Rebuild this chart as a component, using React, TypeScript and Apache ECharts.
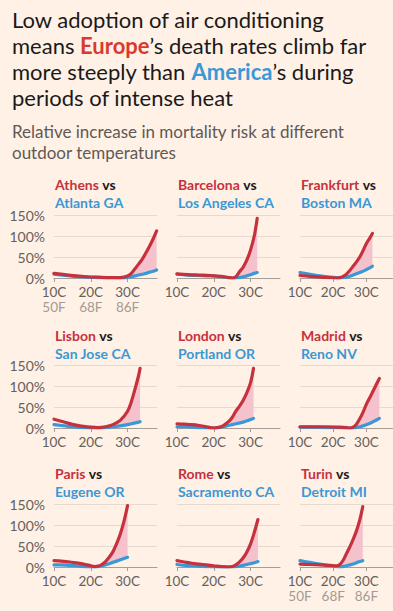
import React, { useEffect, useRef } from 'react';
import * as echarts from 'echarts';

const europeCities = ['Athens', 'Barcelona', 'Frankfurt', 'Lisbon', 'London', 'Madrid', 'Paris', 'Rome', 'Turin'];
const usCities = ['Atlanta GA', 'Los Angeles CA', 'Boston MA', 'San Jose CA', 'Portland OR', 'Reno NV', 'Eugene OR', 'Sacramento CA', 'Detroit MI'];

const xTicks = [10, 20, 30];
const cLabels = ['10C', '20C', '30C'];
const fLabels = ['50F', '68F', '86F'];
const yTicks = [0, 50, 100, 150];

// temperatures (°C) and relative increase in mortality risk (%)
const athensT = [10, 13, 16, 19, 22, 25, 27, 28, 29, 30, 31, 32, 33, 34, 35, 36, 37, 37.9];
const athensRed = [11, 8, 5, 3, 2, 1, 1, 1, 2, 5, 11, 22, 33, 45, 60, 76, 94, 112];
const atlantaBlue = [9, 6, 4, 2, 1, 0, 0, 0, 0, 1, 3, 5, 7, 9, 11, 14, 16, 19];

const barcelonaT = [10, 13, 16, 19, 22, 24, 25, 26, 27, 28, 29, 30, 31, 31.8];
const barcelonaRed = [10, 8, 7, 6, 4, 1, 0, 3, 15, 26, 43, 67, 100, 142];
const losAngelesBlue = [9, 7, 6, 5, 3, 1, 0, 0, 1, 3, 5, 8, 11, 13];

const frankfurtT = [10, 13, 16, 19, 21, 22, 23, 24, 26, 28, 30, 31, 31.8];
const frankfurtRed = [6, 4, 2, 1, 0, 1, 4, 9, 28, 50, 82, 95, 106];
const bostonBlue = [13, 9, 5, 2, 1, 0, 1, 2, 7, 13, 20, 24, 28];

const lisbonT = [10, 12, 14, 16, 18, 20, 22, 24, 26, 28, 30, 31, 32, 33, 33.4];
const lisbonRed = [21, 16, 11, 7, 4, 2, 1, 3, 8, 18, 40, 62, 92, 125, 142];
const sanJoseBlue = [8, 6, 4, 2, 1, 0, 0, 1, 3, 5, 8, 10, 12, 14, 15];

const londonT = [10, 12, 14, 16, 18, 19, 20, 21, 22, 23, 24, 25, 26, 27, 28, 29, 30, 30.8];
const londonRed = [10, 9, 8, 6, 3, 1, 0, 1, 3, 8, 15, 25, 40, 52, 66, 84, 108, 142];
const portlandBlue = [3, 3, 2, 1, 0, 0, 0, 1, 2, 4, 6, 8, 10, 12, 14, 17, 20, 23];

const madridT = [10, 14, 18, 22, 24, 25, 26, 27, 28, 29, 30, 31, 32, 33, 33.9];
const madridRed = [3, 3, 3, 2, 1, 0, 2, 9, 22, 38, 57, 72, 88, 104, 118];
const renoBlue = [2, 2, 1, 1, 0, 0, 0, 1, 3, 5, 8, 11, 15, 19, 23];

const parisT = [10, 12, 14, 16, 18, 20, 21, 22, 23, 24, 25, 26, 27, 28, 29, 30];
const parisRed = [15, 14, 12, 10, 7, 3, 1, 2, 6, 13, 23, 36, 55, 78, 108, 146];
const eugeneBlue = [5, 5, 4, 3, 1, 0, 0, 1, 3, 5, 8, 11, 14, 17, 20, 23];

const romeT = [10, 12, 14, 16, 18, 20, 22, 24, 25, 26, 27, 28, 29, 30, 31, 32];
const romeRed = [15, 12, 9, 7, 5, 3, 1, 0, 1, 5, 12, 22, 36, 55, 82, 113];
const sacramentoBlue = [6, 4, 3, 2, 1, 0, 0, 0, 0, 1, 2, 4, 6, 8, 10, 13];

const turinT = [10, 13, 16, 19, 21, 22, 23, 24, 25, 26, 27, 28, 28.9];
const turinRed = [7, 6, 5, 4, 3, 6, 16, 32, 48, 66, 86, 112, 144];
const detroitBlue = [15, 11, 7, 3, 1, 0, 1, 3, 5, 7, 10, 13, 15];

const temps = [athensT, barcelonaT, frankfurtT, lisbonT, londonT, madridT, parisT, romeT, turinT];
const reds = [athensRed, barcelonaRed, frankfurtRed, lisbonRed, londonRed, madridRed, parisRed, romeRed, turinRed];
const blues = [atlantaBlue, losAngelesBlue, bostonBlue, sanJoseBlue, portlandBlue, renoBlue, eugeneBlue, sacramentoBlue, detroitBlue];

const BG = '#FFF1E5';
const RED = '#c6313e';
const BLUE = '#3a98d6';
const PINK = '#f4c1cc';
const FONT = 'Lato, "Noto Sans", sans-serif';

export default function App() {
  const ref = useRef<HTMLDivElement>(null);
  useEffect(() => {
    document.body.style.margin = '0';
    document.body.style.background = BG;
    const chart = echarts.init(ref.current!, null, { renderer: 'svg' });

    const colLeft = [54, 177, 300];
    const rowTop = [215, 365, 504];
    const plotW = 103;
    const plotH = 63;
    const titleY = [184, 335, 473];

    const grids: any[] = [];
    const xAxes: any[] = [];
    const yAxes: any[] = [];
    const series: any[] = [];
    const graphics: any[] = [];

    for (let i = 0; i < 9; i++) {
      const r = Math.floor(i / 3);
      const c = i % 3;
      grids.push({ left: colLeft[c], top: rowTop[r], width: plotW, height: plotH, containLabel: false });
      const showF = i === 0 || i === 8;
      xAxes.push({
        type: 'value',
        gridIndex: i,
        min: 10,
        max: 38,
        interval: 10,
        axisLine: { show: true, lineStyle: { color: '#a59e98', width: 1 } },
        axisTick: { show: true, length: 4, customValues: xTicks, lineStyle: { color: '#a59e98' } },
        splitLine: { show: false },
        axisLabel: {
          show: true,
          customValues: xTicks,
          margin: 7,
          fontFamily: FONT,
          fontSize: 13.5,
          color: '#66605c',
          lineHeight: 14.5,
          formatter: (v: number) => {
            const k = xTicks.indexOf(v);
            if (k < 0) return '';
            return showF ? `{c|${cLabels[k]}}\n{f|${fLabels[k]}}` : cLabels[k];
          },
          rich: {
            c: { fontFamily: FONT, fontSize: 13.5, color: '#66605c', lineHeight: 14.5 },
            f: { fontFamily: FONT, fontSize: 13.5, color: '#a39b95', lineHeight: 14.5 },
          },
        },
      });
      yAxes.push({
        type: 'value',
        gridIndex: i,
        min: 0,
        max: 150,
        interval: 50,
        axisLine: { show: false },
        axisTick: { show: false },
        splitLine: { show: true, lineStyle: { color: '#e6d9cd', width: 1 } },
        axisLabel: {
          show: c === 0,
          margin: 9,
          fontFamily: FONT,
          fontSize: 14,
          color: '#66605c',
          customValues: yTicks,
          formatter: (v: number) => `${v}%`,
        },
      });

      const T = temps[i];
      const red = reds[i];
      const blue = blues[i];
      // shade the gap on the hot side, from the red curve's minimum onward
      let minIdx = 0;
      for (let k = 0; k < red.length; k++) if (red[k] <= red[minIdx]) minIdx = k;
      const fillData = T.slice(minIdx).map((t, k) => [t, red[minIdx + k], blue[minIdx + k]]);

      series.push({
        type: 'custom', xAxisIndex: i, yAxisIndex: i, data: fillData,
        encode: { x: 0, y: [1, 2] }, silent: true, z: 1, clip: true,
        renderItem: (params: any, api: any) => {
          if (params.dataIndex !== 0) return null;
          const top = fillData.map((d) => api.coord([d[0], d[1]]));
          const bot = fillData.slice().reverse().map((d) => api.coord([d[0], d[2]]));
          return { type: 'polygon', shape: { points: top.concat(bot) }, style: { fill: PINK } };
        },
      });
      series.push({
        type: 'line', xAxisIndex: i, yAxisIndex: i, data: T.map((t, k) => [t, blue[k]]),
        smooth: 0.35, showSymbol: false, lineStyle: { color: BLUE, width: 3.2, cap: 'round' }, z: 2,
      });
      series.push({
        type: 'line', xAxisIndex: i, yAxisIndex: i, data: T.map((t, k) => [t, red[k]]),
        smooth: 0.35, showSymbol: false, lineStyle: { color: RED, width: 3.2, cap: 'round' }, z: 3,
      });

      graphics.push({
        type: 'text', x: colLeft[c] + 1, y: titleY[r],
        style: {
          text: `{r|${europeCities[i]}} {k|vs}`,
          verticalAlign: 'middle',
          rich: {
            r: { fontFamily: FONT, fontSize: 14, fontWeight: 'bold', fill: RED },
            k: { fontFamily: FONT, fontSize: 14, fontWeight: 'bold', fill: '#1a1a1a' },
          },
        },
      });
      graphics.push({
        type: 'text', x: colLeft[c] + 1, y: titleY[r] + 18,
        style: {
          text: usCities[i], verticalAlign: 'middle',
          fontFamily: FONT, fontSize: 14, fontWeight: 'bold', fill: BLUE,
        },
      });
    }

    const titleLines = [
      'Low adoption of air conditioning',
      'means {eu|Europe}’s death rates climb far',
      'more steeply than {us|America}’s during',
      'periods of intense heat',
    ];
    const titleCenters = [19, 45.5, 71.5, 97.5];
    titleLines.forEach((t, k) => {
      graphics.push({
        type: 'text', x: 12, y: titleCenters[k],
        style: {
          text: t, verticalAlign: 'middle', fontFamily: FONT, fontSize: 22, fill: '#1a1a1a',
          rich: {
            eu: { fontFamily: FONT, fontSize: 22, fontWeight: 'bold', fill: '#d93a2e' },
            us: { fontFamily: FONT, fontSize: 22, fontWeight: 'bold', fill: BLUE },
          },
        },
      });
    });
    const subLines = ['Relative increase in mortality risk at different', 'outdoor temperatures'];
    const subCenters = [131, 152];
    subLines.forEach((t, k) => {
      graphics.push({
        type: 'text', x: 12, y: subCenters[k],
        style: { text: t, verticalAlign: 'middle', fontFamily: FONT, fontSize: 17, fill: '#5f5955' },
      });
    });

    chart.setOption({
      animation: false,
      backgroundColor: BG,
      grid: grids,
      xAxis: xAxes,
      yAxis: yAxes,
      series,
      graphic: graphics,
    });
    return () => chart.dispose();
  }, []);
  return <div ref={ref} style={{ width: 393, height: 611, background: BG }} />;
}
